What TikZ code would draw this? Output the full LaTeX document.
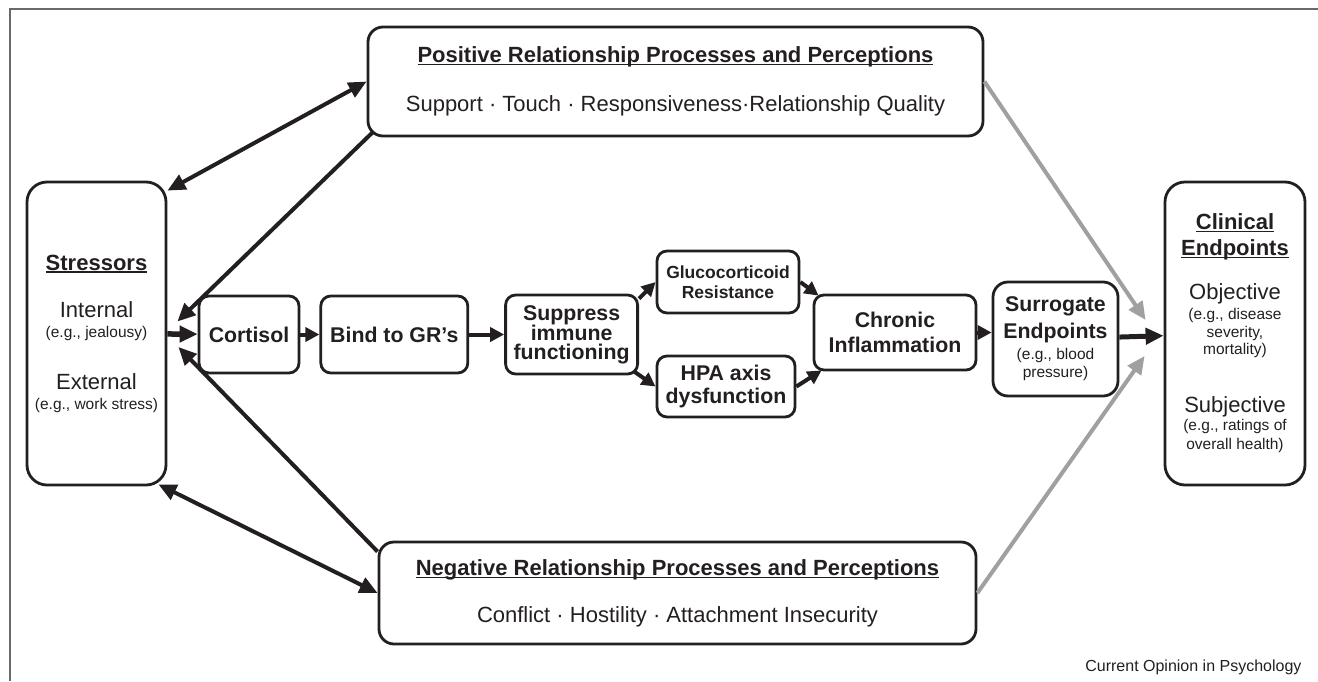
\documentclass[tikz,border=0pt]{standalone}
\usepackage{fontspec}
\setmainfont{Liberation Sans}
\usetikzlibrary{arrows.meta,positioning,calc}
\definecolor{ink}{HTML}{231F20}
\definecolor{paleline}{HTML}{A0A0A0}
\definecolor{framegray}{HTML}{6A6A6A}
\newcommand{\uln}[1]{\setbox0\hbox{#1}\rlap{\rule[-2.6pt]{\wd0}{1.2pt}}\box0}
\newcommand{\tHead}{\bfseries\fontsize{22}{30}\selectfont}
\newcommand{\tItem}{\mdseries\fontsize{22}{30}\selectfont}
\newcommand{\tStep}{\bfseries\fontsize{21.3}{30}\selectfont}
\newcommand{\tNote}{\mdseries\fontsize{15.5}{30}\selectfont}
\begin{document}
\begin{tikzpicture}[x=1pt, y=-1pt,
font=\fontsize{21}{30}\selectfont, text=ink,
stepbox/.style={draw=ink, line width=2.8pt, rounded corners=10pt, align=center, inner sep=0pt},
bigbox/.style={stepbox, rounded corners=20pt},
arrow/.style={draw=ink, line width=4pt, -{Triangle[length=18pt,width=16pt]}},
twoway/.style={draw=ink, line width=4pt, {Triangle[length=18pt,width=16pt]}-{Triangle[length=18pt,width=16pt]}},
stepline/.style={draw=ink, line width=4pt, -{Triangle[length=14pt,width=14pt]}},
grayarrow/.style={draw=paleline, line width=4pt, -{Triangle[length=18pt,width=16pt]}}
]
\useasboundingbox (0,0) rectangle (1318,681);
\draw[framegray, line width=2pt] (10,681) -- (10,8.5) -- (1318,8.5);

% relationship boxes
\node[bigbox, rounded corners=15pt, minimum width=615pt, minimum height=109pt] (pos) at (675.5,81.5)
  {\tHead\uln{Positive Relationship Processes and Perceptions}\\[19pt]\tItem Support · Touch · Responsiveness·Relationship Quality};
\node[bigbox, rounded corners=15pt, minimum width=597pt, minimum height=102pt] (neg) at (677.5,593)
  {\tHead\uln{Negative Relationship Processes and Perceptions}\\[17pt]\tItem Conflict · Hostility · Attachment Insecurity};

% side boxes
\node[bigbox, minimum width=139pt, minimum height=303pt] (stress) at (96.5,333.5)
  {\tHead\uln{Stressors}\\[17pt]\tItem Internal\\[-10pt]\tNote (e.g., jealousy)\\[22pt]\tItem External\\[-10pt]\tNote (e.g., work stress)};
\node[bigbox, minimum width=140pt, minimum height=303pt] (clin) at (1235,333.5)
  {\tHead\uln{Clinical}\\[-4pt]\tHead\uln{Endpoints}\\[14pt]\tItem Objective\\[-10pt]\tNote (e.g., disease\\[-12pt]\tNote severity,\\[-13pt]\tNote mortality)\\[28pt]\tItem Subjective\\[-12pt]\tNote (e.g., ratings of\\[-11pt]\tNote overall health)};

% physiological chain
\node[stepbox, minimum width=100pt, minimum height=77pt] (cortisol) at (249,334.5) {\tStep Cortisol};
\node[stepbox, minimum width=147pt, minimum height=77pt, right=19pt of cortisol] (bind) {\tStep Bind to GR’s};
\node[stepbox, minimum width=132pt, minimum height=79pt, right=35pt of bind] (supp)
  {\tStep Suppress\\[-10pt]\tStep immune\\[-11pt]\tStep functioning};
\node[stepbox, minimum width=142pt, minimum height=62pt] (gluco) at (728,282)
  {\bfseries\fontsize{17.5}{30}\selectfont Glucocorticoid\\[-10pt]\bfseries\fontsize{17.5}{30}\selectfont Resistance};
\node[stepbox, minimum width=138pt, minimum height=61pt] (hpa) at (726,386.5)
  {\tStep HPA axis\\[-7pt]\tStep dysfunction};
\node[stepbox, minimum width=162pt, minimum height=75pt] (chronic) at (895,332.5)
  {\tStep Chronic\\[-5pt]\tStep Inflammation};
\node[stepbox, rounded corners=15pt, minimum width=125pt, minimum height=114pt] (surr) at (1055.5,339)
  {\tStep Surrogate\\[-3pt]\tStep Endpoints\\[-9pt]\tNote (e.g., blood\\[-12pt]\tNote pressure)};

\node[anchor=base east, font=\fontsize{16}{20}\selectfont] (credit) at (1305,671) {Current Opinion in Psychology};

\coordinate (gapTop) at ([shift={(10pt,12pt)}]stress.east);
\coordinate (gapBot) at ([shift={(11pt,-13.5pt)}]stress.east);
\coordinate (clinTop) at ([shift={(-18pt,13.5pt)}]clin.west);
\coordinate (clinBot) at ([shift={(-19pt,-22.5pt)}]clin.west);

\draw[twoway] ([yshift=-10pt]stress.north east) -- (pos.west);
\draw[twoway] ([shift={(-9pt,2pt)}]stress.south east) -- (neg.west);
\draw[arrow] ([shift={(7pt,6pt)}]pos.south west) -- (gapTop);
\draw[arrow] ([yshift=-11pt]neg.north west) -- (gapBot);
\draw[arrow, line width=5.5pt] (stress) -- (cortisol);
\draw[stepline] (cortisol) -- (bind);
\draw[stepline] (bind) -- (supp);
\draw[stepline] ([yshift=-5pt]supp.north east) -- (gluco.west);
\draw[stepline] ([shift={(-5pt,4pt)}]supp.south east) -- (hpa.west);
\draw[stepline] (gluco.east) -- ([shift={(6pt,-2pt)}]chronic.north west);
\draw[stepline] (hpa.east) -- ([shift={(9pt,1pt)}]chronic.south west);
\draw[stepline] (chronic.east) -- (chronic.east -| surr.west);
\draw[arrow, line width=5pt] (surr) -- (clin);
\draw[grayarrow] (pos.east) -- (clinTop);
\draw[grayarrow] (neg.east) -- (clinBot);
\end{tikzpicture}
\end{document}
